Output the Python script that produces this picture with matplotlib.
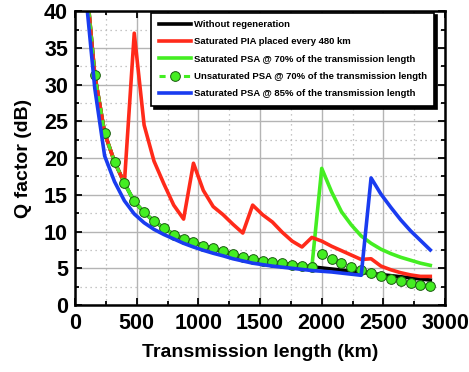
import numpy as np
import matplotlib
matplotlib.use("Agg")
import matplotlib.pyplot as plt
from matplotlib.ticker import MultipleLocator

plt.rcParams['font.family'] = ['Liberation Sans', 'DejaVu Sans']
plt.rcParams['font.weight'] = 'bold'

# transmission length grid (km)
dist = [80, 160, 240, 320, 400, 480, 560, 640, 720, 800, 880, 960,
        1040, 1120, 1200, 1280, 1360, 1440, 1520, 1600, 1680, 1760, 1840, 1920,
        2000, 2080, 2160, 2240, 2320, 2400, 2480, 2560, 2640, 2720, 2800, 2880]

q_noreg = [46.0, 31.3, 23.4, 19.5, 16.6, 14.1, 12.6, 11.4, 10.5, 9.6, 9.0, 8.6,
           8.1, 7.7, 7.3, 6.9, 6.55, 6.3, 6.05, 5.85, 5.67, 5.5, 5.35, 5.2,
           5.05, 4.9, 4.75, 4.6, 4.45, 4.3, 4.15, 4.0, 3.85, 3.7, 3.55, 3.4]

q_pia = [46.0, 31.3, 23.4, 19.5, 16.6, 37.0, 24.5, 19.6, 16.5, 13.6, 11.7, 19.3,
         15.6, 13.4, 12.3, 11.0, 9.8, 13.6, 12.3, 11.3, 9.9, 8.7, 7.9, 9.2,
         8.7, 8.0, 7.4, 6.8, 6.2, 6.3, 5.3, 4.8, 4.4, 4.1, 3.9, 3.9]

q_psa70 = [46.0, 31.3, 23.4, 19.5, 16.6, 14.1, 12.6, 11.4, 10.5, 9.6, 9.0, 8.6,
           8.1, 7.7, 7.3, 6.9, 6.55, 6.3, 6.05, 5.85, 5.67, 5.5, 5.35, 5.2,
           18.6, 15.4, 12.7, 10.9, 9.4, 8.4, 7.6, 7.0, 6.5, 6.1, 5.7, 5.4]

q_unsat70 = [46.0, 31.3, 23.4, 19.5, 16.6, 14.1, 12.6, 11.4, 10.5, 9.6, 9.0, 8.6,
             8.1, 7.7, 7.3, 6.9, 6.55, 6.3, 6.05, 5.85, 5.67, 5.5, 5.35, 5.2,
             7.0, 6.2, 5.67, 5.2, 4.76, 4.3, 3.95, 3.6, 3.3, 3.0, 2.76, 2.6]

q_psa85 = [43.5, 29.5, 20.3, 16.8, 14.2, 12.4, 11.2, 10.3, 9.6, 9.0, 8.4, 7.9,
           7.45, 7.05, 6.7, 6.3, 6.0, 5.7, 5.5, 5.3, 5.15, 5.0, 4.85, 4.7,
           4.6, 4.5, 4.35, 4.2, 4.05, 17.3, 15.1, 13.3, 11.6, 10.1, 8.8, 7.5]

fig = plt.figure(figsize=(4.69, 3.72), dpi=100)
ax = fig.add_axes([0.160, 0.180, 0.789, 0.790])

l_black, = ax.plot(dist, q_noreg, color='black', lw=2.6, label='Without regeneration', zorder=2)
l_green, = ax.plot(dist, q_psa70, color='#44ee22', lw=2.6,
                   label='Saturated PSA @ 70% of the transmission length', zorder=2.1)
l_red, = ax.plot(dist, q_pia, color='#ff2a1a', lw=2.6,
                 label='Saturated PIA placed every 480 km', zorder=2.2)
l_unsat, = ax.plot(dist, q_unsat70, color='#44ee22', lw=2.2, ls=(0, (2, 2)), marker='o', ms=7,
                   mfc='#44ee22', mec='#1a5a10', mew=0.7,
                   label='Unsaturated PSA @ 70% of the transmission length', zorder=2.3)
l_blue, = ax.plot(dist, q_psa85, color='#1a3cf0', lw=2.6,
                  label='Saturated PSA @ 85% of the transmission length', zorder=2.4)

ax.set_xlim(0, 3000)
ax.set_ylim(0, 40)
ax.xaxis.set_major_locator(MultipleLocator(500))
ax.xaxis.set_minor_locator(MultipleLocator(250))
ax.yaxis.set_major_locator(MultipleLocator(5))
ax.yaxis.set_minor_locator(MultipleLocator(2.5))
ax.grid(which='major', color='#b4b4b4', lw=1.0, ls='-')
ax.grid(which='minor', color='#b4b4b4', lw=0.9, ls=(0, (1, 3)))
ax.set_axisbelow(True)

ax.tick_params(which='both', direction='in', top=True, right=True, width=1.3)
ax.tick_params(which='major', length=5, labelsize=15.5)
ax.tick_params(axis='x', which='major', pad=6)
ax.tick_params(axis='y', which='major', pad=5)
ax.tick_params(which='minor', length=3)
for lab in ax.get_xticklabels() + ax.get_yticklabels():
    lab.set_fontweight('bold')
for sp in ax.spines.values():
    sp.set_linewidth(1.8)

ax.set_xlabel('Transmission length (km)', fontsize=14, fontweight='bold', labelpad=7)
ax.set_ylabel('Q factor (dB)', fontsize=14, fontweight='bold', labelpad=9)

handles = [l_black, l_red, l_green, l_unsat, l_blue]
leg = ax.legend(handles=handles, loc='upper right', bbox_to_anchor=(0.975, 1.0),
                borderaxespad=0.15,
                prop={'weight': 'bold', 'size': 6.8}, frameon=True, fancybox=False,
                edgecolor='black', framealpha=1, handlelength=3.4, handletextpad=0.3,
                labelspacing=0.88, borderpad=0.8,
                shadow={'color': 'black', 'alpha': 1.0})
leg.get_frame().set_linewidth(1.2)

fig.savefig('out.png', dpi=100)
